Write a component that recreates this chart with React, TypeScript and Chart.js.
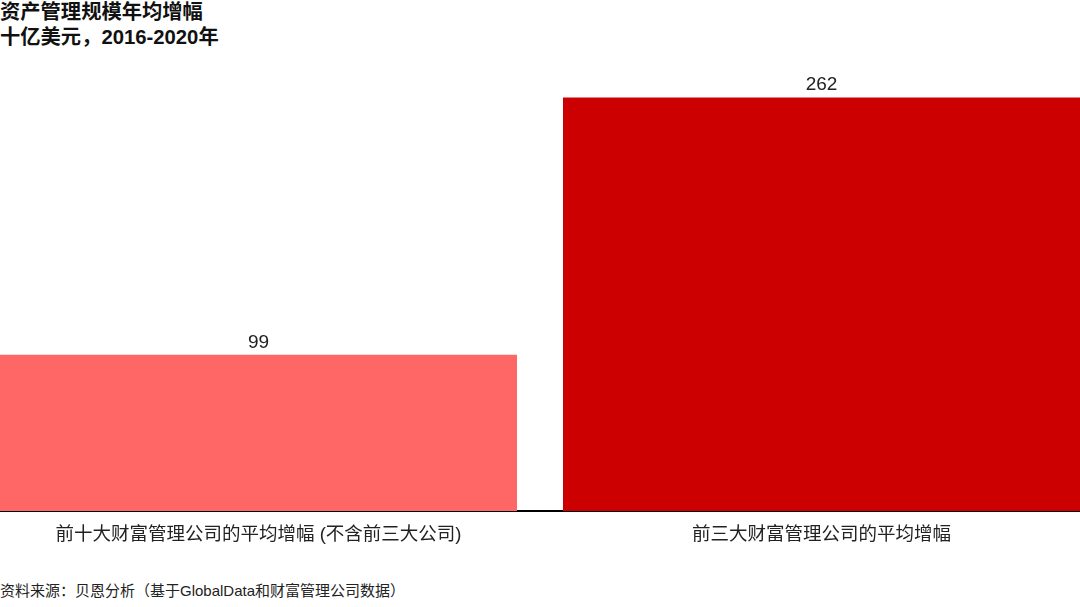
import { useEffect, useRef } from "react";
import { Chart, registerables } from "chart.js";

Chart.register(...registerables);

const CATEGORIES = ["前十大财富管理公司的平均增幅 (不含前三大公司)", "前三大财富管理公司的平均增幅"];
const VALUES = [99, 262];
const COLORS = ["#FF6666", "#CC0000"];
const TITLE = ["资产管理规模年均增幅", "十亿美元，2016-2020年"];
const SOURCE = "资料来源：贝恩分析（基于GlobalData和财富管理公司数据）";
const FONT = "'Liberation Sans', 'Noto Sans CJK SC', sans-serif";

// value labels above bars
const valueLabels = {
  id: "valueLabels",
  afterDatasetsDraw(chart: any) {
    const ctx = chart.ctx;
    const meta = chart.getDatasetMeta(0);
    ctx.save();
    ctx.font = `19px ${FONT}`;
    ctx.fillStyle = "#222";
    ctx.textAlign = "center";
    ctx.textBaseline = "alphabetic";
    meta.data.forEach((bar: any, i: number) => {
      ctx.fillText(String(VALUES[i]), bar.x, bar.y - 7);
    });
    ctx.restore();
  },
};

export default function App() {
  const canvasRef = useRef<HTMLCanvasElement | null>(null);

  useEffect(() => {
    if (!canvasRef.current) return;
    const chart = new Chart(canvasRef.current, {
      type: "bar",
      data: {
        labels: CATEGORIES,
        datasets: [{ data: VALUES, backgroundColor: COLORS, categoryPercentage: 517 / 563, barPercentage: 1 }],
      },
      options: {
        animation: false,
        responsive: true,
        maintainAspectRatio: false,
        layout: { padding: { top: 19, left: 0, right: 0, bottom: 0 } },
        plugins: { legend: { display: false }, tooltip: { enabled: false } },
        scales: {
          x: {
            grid: { display: false, drawTicks: false },
            border: { display: true, color: "#000", width: 2 },
            ticks: { color: "#222", font: { family: FONT, size: 18.5 }, padding: 13, maxRotation: 0 },
            afterFit: (s: any) => { s.height = 49; },
          },
          y: { display: false, min: 0, max: 280 },
        },
      },
      plugins: [valueLabels],
    });
    return () => chart.destroy();
  }, []);

  return (
    <div style={{ position: "fixed", left: 0, top: 0, width: 1080, height: 607, overflow: "hidden", background: "#fff", fontFamily: FONT, color: "#111" }}>
      <div style={{ position: "absolute", left: 0, top: 0, fontSize: 20.3, fontWeight: "bold", lineHeight: "25px" }}>
        {TITLE.map(t => <div key={t}>{t}</div>)}
      </div>
      <div style={{ position: "absolute", left: -23, top: 50, width: 1126, height: 510 }}>
        <canvas ref={canvasRef} />
      </div>
      <div style={{ position: "absolute", left: 0, top: 582, fontSize: 15, lineHeight: "18px", color: "#222" }}>{SOURCE}</div>
    </div>
  );
}
